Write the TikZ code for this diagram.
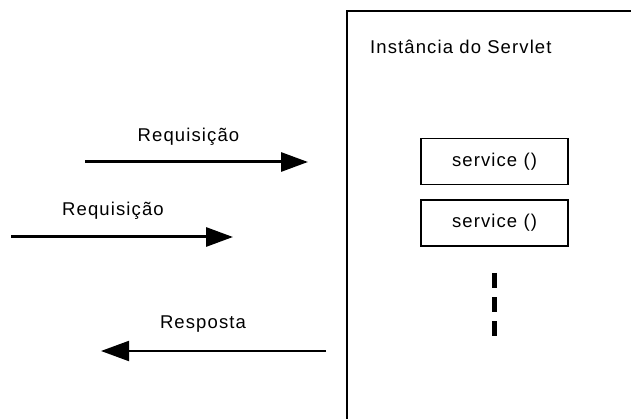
\documentclass[tikz,border=0pt]{standalone}
\usepackage{fontspec}
\setmainfont{Liberation Sans}[LetterSpace=6]
\usetikzlibrary{arrows.meta}
\begin{document}
\begin{tikzpicture}[x=1pt,y=-1pt,
  lbl/.style={inner sep=0pt,font=\fontsize{18.5}{20}\selectfont},
  svc/.style={draw,line width=1.5pt,minimum width=147pt,minimum height=46pt,inner sep=0pt,font=\fontsize{18.5}{20}\selectfont},
  req/.style={line width=3pt,-{Triangle[length=27pt,width=19pt]}},
  resp/.style={line width=2pt,-{Triangle[length=28pt,width=20pt]}}]
\useasboundingbox (0,0) rectangle (631,419);
% servlet instance frame (runs off the right and bottom edges)
\coordinate (fb) at (347,419);
\coordinate (ft) at (347,11);
\coordinate (fr) at (631,11);
\draw[line width=1.5pt] (fb) -- (ft) -- (fr);
\node[lbl,anchor=west] (title) at (370,47) {Instância do Servlet};
% service boxes
\node[svc] (s1) at (494.5,161.5) {service ()};
\node[svc] (s2) at (494.5,223) {service ()};
% ellipsis dashes
\coordinate (d1) at (494,273);
\coordinate (d2) at (494,337);
\draw[line width=5pt,dash pattern=on 15pt off 9pt] (d1) -- (d2);
% requests
\coordinate (a1s) at (85,162);
\coordinate (a1e) at (308,162);
\draw[req] (a1s) -- (a1e);
\node[lbl] (l1) at (188.5,137) {Requisição};
\coordinate (a2s) at (11,237);
\coordinate (a2e) at (233,237);
\draw[req] (a2s) -- (a2e);
\node[lbl] (l2) at (113,211) {Requisição};
% response
\coordinate (a3s) at (326,351);
\coordinate (a3e) at (101,351);
\draw[resp] (a3s) -- (a3e);
\node[lbl] (l3) at (203,324) {Resposta};
\end{tikzpicture}
\end{document}
